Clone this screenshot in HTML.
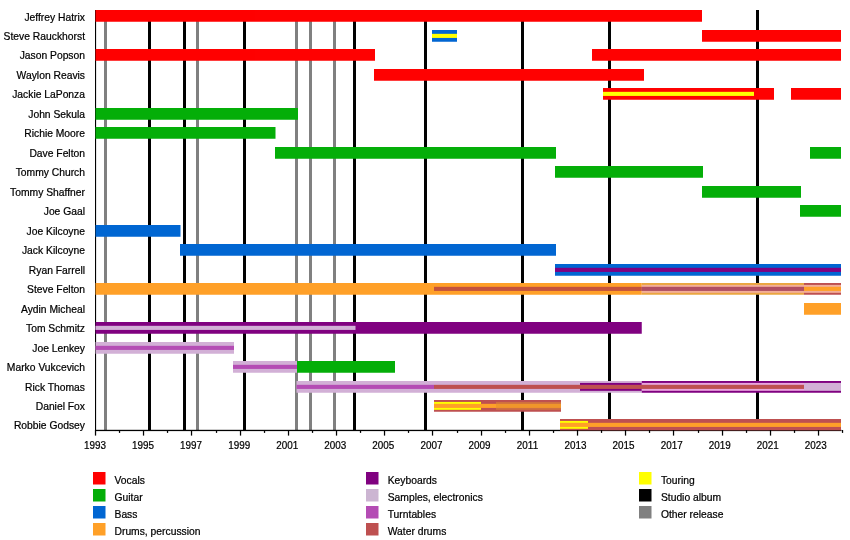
<!DOCTYPE html>
<html><head><meta charset="utf-8"><title>Timeline</title>
<style>
html,body{margin:0;padding:0;background:#fff;}
body{width:850px;height:540px;overflow:hidden;}
svg{display:block;}
text{font-family:"Liberation Sans",sans-serif;font-size:10.7px;fill:#000;stroke:#000;stroke-width:0.22px;}
</style></head><body>
<svg style="will-change:transform;opacity:0.999" width="850" height="540" viewBox="0 0 850 540">
<rect x="0" y="0" width="850" height="540" fill="#ffffff"/>
<g shape-rendering="crispEdges">
<rect x="104" y="10" width="3" height="420.5" fill="#808080"/>
<rect x="196" y="10" width="3" height="420.5" fill="#808080"/>
<rect x="295" y="10" width="3" height="420.5" fill="#808080"/>
<rect x="309" y="10" width="3" height="420.5" fill="#808080"/>
<rect x="333" y="10" width="3" height="420.5" fill="#808080"/>
<rect x="148" y="10" width="3" height="420.5" fill="#000000"/>
<rect x="183" y="10" width="3" height="420.5" fill="#000000"/>
<rect x="243" y="10" width="3" height="420.5" fill="#000000"/>
<rect x="353" y="10" width="3" height="420.5" fill="#000000"/>
<rect x="424" y="10" width="3" height="420.5" fill="#000000"/>
<rect x="521" y="10" width="3" height="420.5" fill="#000000"/>
<rect x="608" y="10" width="3" height="420.5" fill="#000000"/>
<rect x="756" y="10" width="3" height="420.5" fill="#000000"/>
</g>
<rect x="95" y="429.8" width="746.5" height="1.3" fill="#000"/>
<rect x="95" y="10" width="1.1" height="421" fill="#000"/>
<g clip-path="url(#cp)">
<clipPath id="cp"><rect x="90" y="0" width="760" height="430.4"/></clipPath>
<rect x="95.5" y="10.00" width="606.5" height="11.75" fill="#ff0000"/>
<rect x="432" y="30.00" width="25" height="11.75" fill="#0066d2"/>
<rect x="432" y="33.83" width="25" height="4.1" fill="#ffff00"/>
<rect x="702" y="30.00" width="139" height="11.75" fill="#ff0000"/>
<rect x="95.5" y="49.00" width="279.5" height="11.75" fill="#ff0000"/>
<rect x="592" y="49.00" width="249" height="11.75" fill="#ff0000"/>
<rect x="374" y="69.00" width="270" height="11.75" fill="#ff0000"/>
<rect x="603" y="88.00" width="171" height="11.75" fill="#ff0000"/>
<rect x="603" y="91.83" width="151" height="4.1" fill="#ffff00"/>
<rect x="791" y="88.00" width="50" height="11.75" fill="#ff0000"/>
<rect x="95.5" y="108.00" width="202.5" height="11.75" fill="#04ae08"/>
<rect x="95.5" y="127.00" width="180" height="11.75" fill="#04ae08"/>
<rect x="275" y="147.00" width="281" height="11.75" fill="#04ae08"/>
<rect x="810" y="147.00" width="31" height="11.75" fill="#04ae08"/>
<rect x="555" y="166.00" width="148" height="11.75" fill="#04ae08"/>
<rect x="702" y="186.00" width="99" height="11.75" fill="#04ae08"/>
<rect x="800" y="205.00" width="41" height="11.75" fill="#04ae08"/>
<rect x="95.5" y="225.00" width="85" height="11.75" fill="#0066d2"/>
<rect x="180" y="244.00" width="376" height="11.75" fill="#0066d2"/>
<rect x="555" y="264.00" width="286" height="11.75" fill="#0066d2"/>
<rect x="555" y="267.82" width="286" height="4.1" fill="#800080"/>
<rect x="95.5" y="283.00" width="546.25" height="11.75" fill="#ffa028"/>
<rect x="641.75" y="283.00" width="162.25" height="11.75" fill="#eaa640"/>
<rect x="804" y="283.00" width="37" height="11.75" fill="#be5050"/>
<rect x="641.75" y="284.93" width="199.25" height="7.9" fill="#f2ae98"/>
<rect x="434" y="286.82" width="207.75" height="4.1" fill="#c4523c"/>
<rect x="641.75" y="286.82" width="162.25" height="4.1" fill="#b04e62"/>
<rect x="804" y="286.82" width="37" height="4.1" fill="#ffa028"/>
<rect x="804" y="303.00" width="37" height="11.75" fill="#ffa028"/>
<rect x="95.5" y="322.00" width="546.25" height="11.75" fill="#800080"/>
<rect x="95.5" y="325.82" width="260" height="4.1" fill="#d2b0d6"/>
<rect x="95.5" y="342.00" width="138.5" height="11.75" fill="#d2b0d6"/>
<rect x="95.5" y="345.82" width="138.5" height="4.1" fill="#b44cb4"/>
<rect x="233" y="361.00" width="64" height="11.75" fill="#d2b0d6"/>
<rect x="233" y="364.82" width="64" height="4.1" fill="#b44cb4"/>
<rect x="297" y="361.00" width="98" height="11.75" fill="#04ae08"/>
<rect x="296.5" y="381.00" width="345.25" height="11.75" fill="#d2b0d6"/>
<rect x="641.75" y="381.00" width="199.25" height="11.75" fill="#800080"/>
<rect x="580" y="382.93" width="61.75" height="7.9" fill="#800080"/>
<rect x="641.75" y="382.93" width="162.25" height="7.9" fill="#e8a6de"/>
<rect x="804" y="382.93" width="37" height="7.9" fill="#d2b0d6"/>
<rect x="296.5" y="384.82" width="137.5" height="4.1" fill="#b44cb4"/>
<rect x="434" y="384.82" width="370" height="4.1" fill="#be5050"/>
<rect x="434" y="400.00" width="127" height="11.75" fill="#be5050"/>
<rect x="434" y="401.93" width="47" height="7.9" fill="#ffff00"/>
<rect x="496" y="401.93" width="65" height="7.9" fill="#cf7040"/>
<rect x="434" y="403.82" width="62" height="4.1" fill="#ffa028"/>
<rect x="496" y="403.82" width="65" height="4.1" fill="#f0962a"/>
<rect x="560" y="419.00" width="281" height="11.75" fill="#be5050"/>
<rect x="560" y="420.93" width="28" height="7.9" fill="#ffff00"/>
<rect x="560" y="422.82" width="281" height="4.1" fill="#ffa028"/>
</g>
<rect x="94.90" y="430" width="1.25" height="5.6" fill="#000"/>
<rect x="118.90" y="430" width="1.25" height="2.9" fill="#000"/>
<rect x="142.90" y="430" width="1.25" height="5.6" fill="#000"/>
<rect x="166.90" y="430" width="1.25" height="2.9" fill="#000"/>
<rect x="190.90" y="430" width="1.25" height="5.6" fill="#000"/>
<rect x="215.90" y="430" width="1.25" height="2.9" fill="#000"/>
<rect x="239.90" y="430" width="1.25" height="5.6" fill="#000"/>
<rect x="263.90" y="430" width="1.25" height="2.9" fill="#000"/>
<rect x="287.90" y="430" width="1.25" height="5.6" fill="#000"/>
<rect x="311.90" y="430" width="1.25" height="2.9" fill="#000"/>
<rect x="335.90" y="430" width="1.25" height="5.6" fill="#000"/>
<rect x="359.90" y="430" width="1.25" height="2.9" fill="#000"/>
<rect x="383.90" y="430" width="1.25" height="5.6" fill="#000"/>
<rect x="407.90" y="430" width="1.25" height="2.9" fill="#000"/>
<rect x="431.90" y="430" width="1.25" height="5.6" fill="#000"/>
<rect x="456.90" y="430" width="1.25" height="2.9" fill="#000"/>
<rect x="480.90" y="430" width="1.25" height="5.6" fill="#000"/>
<rect x="504.90" y="430" width="1.25" height="2.9" fill="#000"/>
<rect x="528.90" y="430" width="1.25" height="5.6" fill="#000"/>
<rect x="552.90" y="430" width="1.25" height="2.9" fill="#000"/>
<rect x="576.90" y="430" width="1.25" height="5.6" fill="#000"/>
<rect x="600.90" y="430" width="1.25" height="2.9" fill="#000"/>
<rect x="624.90" y="430" width="1.25" height="5.6" fill="#000"/>
<rect x="648.90" y="430" width="1.25" height="2.9" fill="#000"/>
<rect x="672.90" y="430" width="1.25" height="5.6" fill="#000"/>
<rect x="697.90" y="430" width="1.25" height="2.9" fill="#000"/>
<rect x="721.90" y="430" width="1.25" height="5.6" fill="#000"/>
<rect x="745.90" y="430" width="1.25" height="2.9" fill="#000"/>
<rect x="769.90" y="430" width="1.25" height="5.6" fill="#000"/>
<rect x="793.90" y="430" width="1.25" height="2.9" fill="#000"/>
<rect x="817.90" y="430" width="1.25" height="5.6" fill="#000"/>
<rect x="841.90" y="430" width="1.25" height="2.9" fill="#000"/>
<rect x="93" y="472" width="12.5" height="12.5" fill="#ff0000"/>
<rect x="93" y="489" width="12.5" height="12.5" fill="#04ae08"/>
<rect x="93" y="506" width="12.5" height="12.5" fill="#0066d2"/>
<rect x="93" y="523" width="12.5" height="12.5" fill="#ffa028"/>
<rect x="366" y="472" width="12.5" height="12.5" fill="#800080"/>
<rect x="366" y="489" width="12.5" height="12.5" fill="#ccb5d2"/>
<rect x="366" y="506" width="12.5" height="12.5" fill="#b44cb4"/>
<rect x="366" y="523" width="12.5" height="12.5" fill="#be5050"/>
<rect x="639" y="472" width="12.5" height="12.5" fill="#ffff00"/>
<rect x="639" y="489" width="12.5" height="12.5" fill="#000000"/>
<rect x="639" y="506" width="12.5" height="12.5" fill="#808080"/>
<text transform="translate(85,20.50) scale(0.965,1)" text-anchor="end">Jeffrey Hatrix</text>
<text transform="translate(85,39.75) scale(0.965,1)" text-anchor="end">Steve Rauckhorst</text>
<text transform="translate(85,59.25) scale(0.965,1)" text-anchor="end">Jason Popson</text>
<text transform="translate(85,78.75) scale(0.965,1)" text-anchor="end">Waylon Reavis</text>
<text transform="translate(85,98.25) scale(0.965,1)" text-anchor="end">Jackie LaPonza</text>
<text transform="translate(85,117.75) scale(0.965,1)" text-anchor="end">John Sekula</text>
<text transform="translate(85,137.25) scale(0.965,1)" text-anchor="end">Richie Moore</text>
<text transform="translate(85,156.75) scale(0.965,1)" text-anchor="end">Dave Felton</text>
<text transform="translate(85,176.25) scale(0.965,1)" text-anchor="end">Tommy Church</text>
<text transform="translate(85,195.75) scale(0.965,1)" text-anchor="end">Tommy Shaffner</text>
<text transform="translate(85,215.25) scale(0.965,1)" text-anchor="end">Joe Gaal</text>
<text transform="translate(85,234.75) scale(0.965,1)" text-anchor="end">Joe Kilcoyne</text>
<text transform="translate(85,254.25) scale(0.965,1)" text-anchor="end">Jack Kilcoyne</text>
<text transform="translate(85,273.75) scale(0.965,1)" text-anchor="end">Ryan Farrell</text>
<text transform="translate(85,293.25) scale(0.965,1)" text-anchor="end">Steve Felton</text>
<text transform="translate(85,312.75) scale(0.965,1)" text-anchor="end">Aydin Micheal</text>
<text transform="translate(85,332.25) scale(0.965,1)" text-anchor="end">Tom Schmitz</text>
<text transform="translate(85,351.75) scale(0.965,1)" text-anchor="end">Joe Lenkey</text>
<text transform="translate(85,371.25) scale(0.965,1)" text-anchor="end">Marko Vukcevich</text>
<text transform="translate(85,390.75) scale(0.965,1)" text-anchor="end">Rick Thomas</text>
<text transform="translate(85,410.25) scale(0.965,1)" text-anchor="end">Daniel Fox</text>
<text transform="translate(85,429.20) scale(0.965,1)" text-anchor="end">Robbie Godsey</text>
<text transform="translate(95.00,448.8) scale(0.925,1)" text-anchor="middle">1993</text>
<text transform="translate(143.06,448.8) scale(0.925,1)" text-anchor="middle">1995</text>
<text transform="translate(191.11,448.8) scale(0.925,1)" text-anchor="middle">1997</text>
<text transform="translate(239.17,448.8) scale(0.925,1)" text-anchor="middle">1999</text>
<text transform="translate(287.22,448.8) scale(0.925,1)" text-anchor="middle">2001</text>
<text transform="translate(335.28,448.8) scale(0.925,1)" text-anchor="middle">2003</text>
<text transform="translate(383.34,448.8) scale(0.925,1)" text-anchor="middle">2005</text>
<text transform="translate(431.39,448.8) scale(0.925,1)" text-anchor="middle">2007</text>
<text transform="translate(479.45,448.8) scale(0.925,1)" text-anchor="middle">2009</text>
<text transform="translate(527.50,448.8) scale(0.925,1)" text-anchor="middle">2011</text>
<text transform="translate(575.56,448.8) scale(0.925,1)" text-anchor="middle">2013</text>
<text transform="translate(623.62,448.8) scale(0.925,1)" text-anchor="middle">2015</text>
<text transform="translate(671.67,448.8) scale(0.925,1)" text-anchor="middle">2017</text>
<text transform="translate(719.73,448.8) scale(0.925,1)" text-anchor="middle">2019</text>
<text transform="translate(767.78,448.8) scale(0.925,1)" text-anchor="middle">2021</text>
<text transform="translate(815.84,448.8) scale(0.925,1)" text-anchor="middle">2023</text>
<text transform="translate(114.50,483.80) scale(0.965,1)">Vocals</text>
<text transform="translate(114.50,500.80) scale(0.965,1)">Guitar</text>
<text transform="translate(114.50,517.80) scale(0.965,1)">Bass</text>
<text transform="translate(114.50,534.80) scale(0.965,1)">Drums, percussion</text>
<text transform="translate(387.70,483.80) scale(0.965,1)">Keyboards</text>
<text transform="translate(387.70,500.80) scale(0.965,1)">Samples, electronics</text>
<text transform="translate(387.70,517.80) scale(0.965,1)">Turntables</text>
<text transform="translate(387.70,534.80) scale(0.965,1)">Water drums</text>
<text transform="translate(660.90,483.80) scale(0.965,1)">Touring</text>
<text transform="translate(660.90,500.80) scale(0.965,1)">Studio album</text>
<text transform="translate(660.90,517.80) scale(0.965,1)">Other release</text>
</svg>
</body></html>
